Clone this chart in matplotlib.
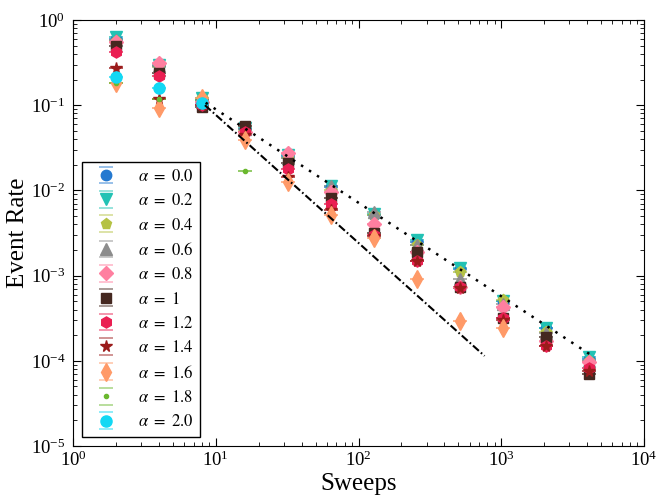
import numpy as np
import matplotlib
matplotlib.use("Agg")
import matplotlib.pyplot as plt
from matplotlib.colors import to_rgba

plt.rcParams['font.family'] = ['Liberation Serif', 'DejaVu Serif']
plt.rcParams['mathtext.fontset'] = 'stix'

sweeps = [2, 4, 8, 16, 32, 64, 128, 256, 512, 1024, 2048, 4096]

labels = [r'$\alpha\ =\ 0.0$', r'$\alpha\ =\ 0.2$', r'$\alpha\ =\ 0.4$', r'$\alpha\ =\ 0.6$',
          r'$\alpha\ =\ 0.8$', r'$\alpha\ =\ 1$', r'$\alpha\ =\ 1.2$', r'$\alpha\ =\ 1.4$',
          r'$\alpha\ =\ 1.6$', r'$\alpha\ =\ 1.8$', r'$\alpha\ =\ 2.0$']

rate_a00 = [0.60, 0.29, 0.115, 0.052, 0.025, 0.0110, 0.0051, 0.0025, 0.00120, 0.00050, 0.00024, 0.000105]
rate_a02 = [0.63, 0.30, 0.120, 0.054, 0.026, 0.0112, 0.0053, 0.0026, 0.00123, 0.00051, 0.00024, 0.000111]
rate_a04 = [0.57, 0.28, 0.120, 0.050, 0.024, 0.0100, 0.0051, 0.0023, 0.00111, 0.00052, 0.00022, 0.000100]
rate_a06 = [0.58, 0.29, 0.110, 0.052, 0.024, 0.0112, 0.0056, 0.0023, 0.00091, 0.00047, 0.00021, 0.000100]
rate_a08 = [0.55, 0.31, 0.110, 0.049, 0.0275, 0.0096, 0.0040, 0.0019, 0.00074, 0.00043, 0.00017, 0.000097]
rate_a10 = [0.50, 0.237, 0.095, 0.057, 0.021, 0.0081, 0.0032, 0.0019, 0.00074, 0.00032, 0.00019, 0.000070]
rate_a12 = [0.42, 0.22, 0.100, 0.049, 0.0178, 0.0069, 0.0030, 0.0015, 0.00074, 0.00032, 0.000149, 0.000083]
rate_a14 = [0.27, 0.117, 0.100, 0.045, 0.0144, 0.0059, 0.0029, 0.0015, 0.00072, 0.00030, 0.000149, 0.000075]
rate_a16 = [0.18, 0.093, 0.120, 0.039, 0.0126, 0.0051, 0.0028, 0.00091, 0.000294, 0.00024]
rate_a18 = [0.18, 0.117, 0.115, 0.0169]
rate_a20 = [0.216, 0.158, 0.105]

rates = [rate_a00, rate_a02, rate_a04, rate_a06, rate_a08, rate_a10,
         rate_a12, rate_a14, rate_a16, rate_a18, rate_a20]

colors = ['#2479d0', '#22c2b4', '#b5c244', '#8c8c8c', '#ff7fa0', '#452820',
          '#ea1f52', '#9b1b1b', '#ff9a68', '#6ab82e', '#12d8f4']
markers = ['o', 'v', 'p', '^', 'D', 's', 'h', '*', 'd', '.', 'o']
msizes = [7.5, 8, 8, 8, 7.5, 7.5, 8, 8.5, 9, 6, 8]

# guide lines (power-law slopes)
dot_x = [8.5, 4250]
dot_y = [0.107, 1.17e-4]
dashdot_x = [8.4, 764]
dashdot_y = [0.100, 1.14e-4]

fig = plt.figure(figsize=(6.57, 4.98), dpi=100)
ax = fig.add_axes([73 / 657, 52 / 498, 571 / 657, 426 / 498])

for vals, c, m, ms, lab in zip(rates, colors, markers, msizes, labels):
    xs = sweeps[:len(vals)]
    ax.errorbar(xs, vals, yerr=np.zeros(len(vals)), fmt=m, color=c, ms=ms,
                mec=c, ecolor=to_rgba(c, 0.55), elinewidth=0, capsize=5,
                capthick=1.2, label=lab, zorder=3)

ax.plot(dot_x, dot_y, color='black', ls=(0, (1, 2.8)), lw=1.8, zorder=4)
ax.plot(dashdot_x, dashdot_y, color='black', ls=(0, (3.8, 1.3, 0.8, 1.3)), lw=1.5, zorder=4)

ax.set_xscale('log')
ax.set_yscale('log')
ax.set_xlim(1, 1e4)
ax.set_ylim(1e-5, 1)
ax.set_xlabel('Sweeps', fontsize=18)
ax.xaxis.set_label_coords(0.5, -0.089)
ax.xaxis.label.set_va('center')
ax.set_ylabel('Event Rate', fontsize=18)
ax.yaxis.set_label_coords(-0.096, 0.5)
ax.yaxis.label.set_va('center')
ax.tick_params(which='both', direction='in', top=True, right=True, labelsize=13.5)
ax.tick_params(axis='y', which='major', pad=5.5)
ax.tick_params(which='major', length=6)
ax.tick_params(which='minor', length=3)

leg = ax.legend(loc='lower left', bbox_to_anchor=(9 / 571, 9 / 426), fontsize=12,
                fancybox=False, edgecolor='black', framealpha=1,
                labelspacing=0.5, handlelength=2.1, handletextpad=0.85,
                borderpad=0.4, borderaxespad=0.0, numpoints=1)
leg.get_frame().set_linewidth(1.0)

fig.savefig('out.png', dpi=100)
